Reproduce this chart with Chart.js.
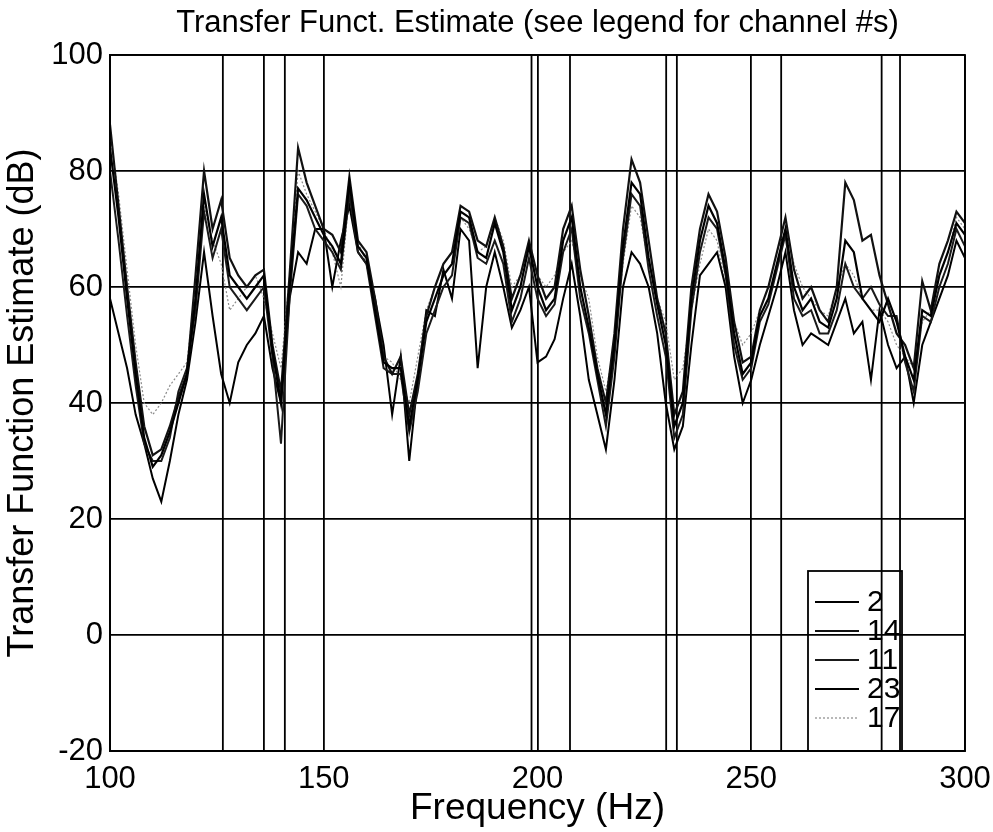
<!DOCTYPE html>
<html>
<head>
<meta charset="utf-8">
<script src="https://cdn.jsdelivr.net/npm/chart.js"></script>
<style>
  html, body { margin: 0; padding: 0; background: #fff; }
  #wrap { width: 993px; height: 832px; }
</style>
</head>
<body>
<div id="wrap"><canvas id="tfChart" width="993" height="832"></canvas></div>
<script>
// 頻率點 (Hz)
const freqs = [
  100, 102, 104, 106, 108, 110, 112, 114, 116, 118,
  120, 122, 124, 126, 128, 130, 132, 134, 136, 138,
  140, 142, 144, 146, 148, 150, 152, 154, 156, 158,
  160, 162, 164, 166, 168, 170, 172, 174, 176, 178,
  180, 182, 184, 186, 188, 190, 192, 194, 196, 198,
  200, 202, 204, 206, 208, 210, 212, 214, 216, 218,
  220, 222, 224, 226, 228, 230, 232, 234, 236, 238,
  240, 242, 244, 246, 248, 250, 252, 254, 256, 258,
  260, 262, 264, 266, 268, 270, 272, 274, 276, 278,
  280, 282, 284, 286, 288, 290, 292, 294, 296, 298, 300
];

// 各通道傳遞函數估計 (dB)
const ch2 = [
  84, 72, 58, 45, 34, 29, 31, 35, 40, 45,
  58, 76, 67, 72, 62, 60, 58, 60, 62, 49,
  40, 60, 77, 75, 72, 69, 67, 64, 78, 67,
  65, 56, 47, 46, 46, 36, 44, 54, 58, 62,
  64, 73, 72, 66, 65, 71, 66, 56, 60, 67,
  60, 56, 58, 68, 72, 60, 53, 45, 38, 50,
  67, 78, 76, 65, 57, 50, 36, 40, 58, 68,
  74, 71, 63, 52, 45, 47, 55, 58, 64, 70,
  60, 56, 58, 54, 53, 58, 68, 66, 58, 56,
  54, 58, 54, 48, 44, 56, 55, 62, 66, 71, 69
];
const ch14 = [
  88, 74, 60, 47, 36, 31, 32, 36, 41, 45,
  62, 80, 70, 75, 65, 62, 60, 62, 63, 50,
  42, 62, 84, 78, 74, 70, 69, 66, 79, 68,
  66, 58, 48, 45, 48, 38, 45, 55, 60, 64,
  66, 74, 73, 68, 67, 72, 67, 58, 62, 68,
  62, 58, 60, 70, 74, 63, 55, 46, 40, 52,
  70, 82, 78, 68, 58, 52, 38, 42, 60, 70,
  76, 73, 65, 54, 47, 48, 56, 60, 66, 72,
  63, 58, 60, 56, 54, 60, 78, 75, 68, 69,
  62, 57, 52, 50, 46, 61, 56, 64, 68, 73, 71
];
const ch11 = [
  80, 68, 55, 43, 33, 30, 30, 34, 42, 46,
  56, 73, 65, 70, 60, 58, 56, 58, 60, 48,
  33, 58, 76, 74, 70, 68, 66, 63, 76, 66,
  64, 55, 46, 45, 45, 35, 42, 52, 56, 60,
  62, 72, 71, 65, 64, 68, 64, 54, 58, 65,
  58, 55, 57, 66, 70, 58, 52, 44, 36, 48,
  65, 76, 74, 63, 55, 48, 34, 38, 56, 66,
  72, 70, 62, 50, 44, 46, 54, 57, 63, 69,
  58, 55, 56, 52, 52, 56, 64, 60, 58, 60,
  57, 55, 55, 47, 42, 55, 54, 60, 64, 70, 67
];
const ch23 = [
  58, 52, 46, 38, 33, 27, 23, 30, 38, 44,
  54, 66, 55, 45, 40, 47, 50, 52, 55, 46,
  40, 58, 66, 64, 70, 70, 60, 68, 74, 66,
  64, 58, 50, 38, 48, 30, 44, 56, 55, 63,
  58, 70, 68, 46, 60, 66, 60, 53, 56, 60,
  47, 48, 51, 58, 64, 55, 44, 38, 32, 44,
  60, 66, 64, 60, 52, 40, 32, 36, 50, 62,
  64, 66, 60, 48, 40, 44, 50, 55, 60, 66,
  56, 50, 52, 51, 50, 54, 58, 52, 54, 44,
  56, 50, 46, 48, 40, 50, 54, 58, 62, 68, 65
];
const ch17 = [
  86, 76, 63, 50, 40, 38, 40, 43, 45, 47,
  60, 74, 68, 64, 56, 58, 60, 62, 58, 52,
  46, 62, 80, 76, 73, 70, 66, 60, 76, 68,
  64, 56, 48, 47, 44, 40, 48, 56, 60, 64,
  66, 72, 70, 66, 67, 72, 68, 60, 62, 66,
  62, 60, 62, 66, 68, 62, 58, 48, 42, 50,
  64, 74, 72, 64, 58, 54, 44, 46, 56, 64,
  70, 68, 60, 54, 50, 52, 56, 60, 66, 70,
  64, 60, 58, 56, 55, 60, 64, 62, 58, 56,
  56, 54, 50, 48, 46, 54, 56, 62, 66, 72, 70
];

// 超出量程的頻點 (數值衝出上下界, 顯示為貫穿的豎線)
const clipFreqs = [126.4, 136, 140.9, 198.6, 207.6, 230.1, 232.6, 257, 280.5, 284.8];

const xTicks = [100, 150, 200, 250, 300];
const yTicks = [-20, 0, 20, 40, 60, 80, 100];
const yMin = -20;
const yMax = 100;

const FONT = "'Liberation Sans', Arial, sans-serif";

function toPoints(values) {
    return freqs.map((f, i) => ({ x: f, y: values[i] }));
}

function clipPoints() {
    const pts = [];
    clipFreqs.forEach(f => {
        pts.push({ x: f, y: yMin });
        pts.push({ x: f, y: yMax });
        pts.push({ x: f, y: null });
    });
    return pts;
}

// 圖框內的圖例 (透明, 右下角)
const boxLegend = {
    id: 'boxLegend',
    afterDatasetsDraw(chart) {
        const ctx = chart.ctx;
        const area = chart.chartArea;
        const items = chart.data.datasets.filter(d => !d.noLegend);
        const left = area.right - 157;
        const top = area.bottom - 180;
        const width = 94;

        ctx.save();
        ctx.strokeStyle = '#000';
        ctx.lineWidth = 1.8;
        ctx.strokeRect(left, top, width, area.bottom - top);

        ctx.font = '30px ' + FONT;
        ctx.textBaseline = 'middle';
        ctx.fillStyle = '#000';
        items.forEach((d, i) => {
            const y = top + 31 + i * 29;
            ctx.beginPath();
            ctx.strokeStyle = d.borderColor;
            ctx.lineWidth = d.borderWidth;
            ctx.setLineDash(d.borderDash || []);
            ctx.moveTo(left + 7, y);
            ctx.lineTo(left + 51, y);
            ctx.stroke();
            ctx.setLineDash([]);
            ctx.fillText(d.label, left + 59, y + 1);
        });
        ctx.restore();
    }
};

function makeSeries(label, values, color, width, dash) {
    return {
        label: label,
        data: toPoints(values),
        borderColor: color,
        borderWidth: width,
        borderDash: dash || [],
        pointRadius: 0,
        fill: false,
        tension: 0
    };
}

const ctx = document.getElementById('tfChart').getContext('2d');
new Chart(ctx, {
    type: 'line',
    data: {
        datasets: [
            makeSeries('2', ch2, '#000', 2.2),
            makeSeries('14', ch14, '#111', 2.2),
            makeSeries('11', ch11, '#1a1a1a', 2),
            makeSeries('23', ch23, '#000', 2),
            makeSeries('17', ch17, '#8a8a8a', 1.2, [2, 2]),
            {
                label: 'clipped',
                noLegend: true,
                data: clipPoints(),
                borderColor: '#000',
                borderWidth: 1.8,
                pointRadius: 0,
                spanGaps: false
            }
        ]
    },
    options: {
        responsive: false,
        animation: false,
        layout: { padding: { left: 0, right: 28, top: 0, bottom: 0 } },
        plugins: {
            legend: { display: false },
            tooltip: { enabled: false },
            title: {
                display: true,
                fullSize: false,
                text: 'Transfer Funct. Estimate (see legend for channel #s)',
                color: '#000',
                font: { family: FONT, size: 31, weight: 'normal' },
                padding: { top: 5, bottom: 12.8 }
            }
        },
        scales: {
            x: {
                type: 'linear',
                min: 100,
                max: 300,
                afterBuildTicks(scale) {
                    scale.ticks = xTicks.map(v => ({ value: v }));
                },
                afterFit(scale) {
                    scale.height = 81;
                    scale.paddingLeft = 0;
                    scale.paddingRight = 0;
                },
                grid: { color: '#000', lineWidth: 1.8, drawTicks: false },
                border: { color: '#000', width: 1.8 },
                ticks: {
                    color: '#000',
                    padding: 10,
                    maxRotation: 0,
                    font: { family: FONT, size: 31 }
                },
                title: {
                    display: true,
                    text: 'Frequency (Hz)',
                    color: '#000',
                    padding: { top: 0, bottom: 1 },
                    font: { family: FONT, size: 37 }
                }
            },
            y: {
                min: yMin,
                max: yMax,
                afterBuildTicks(scale) {
                    scale.ticks = yTicks.map(v => ({ value: v }));
                },
                afterFit(scale) {
                    scale.width = 110;
                },
                grid: { color: '#000', lineWidth: 1.8, drawTicks: false },
                border: { color: '#000', width: 1.8 },
                ticks: {
                    color: '#000',
                    padding: 7,
                    font: { family: FONT, size: 31 }
                },
                title: {
                    display: true,
                    text: 'Transfer Function Estimate (dB)',
                    color: '#000',
                    padding: { top: 1, bottom: 0 },
                    font: { family: FONT, size: 36 }
                }
            }
        }
    },
    plugins: [boxLegend, {
        id: 'frameBox',
        afterDraw(chart) {
            const c = chart.ctx;
            const a = chart.chartArea;
            c.save();
            c.strokeStyle = '#000';
            c.lineWidth = 1.8;
            c.strokeRect(a.left, a.top, a.right - a.left, a.bottom - a.top);
            c.restore();
        }
    }]
});
</script>
</body>
</html>
